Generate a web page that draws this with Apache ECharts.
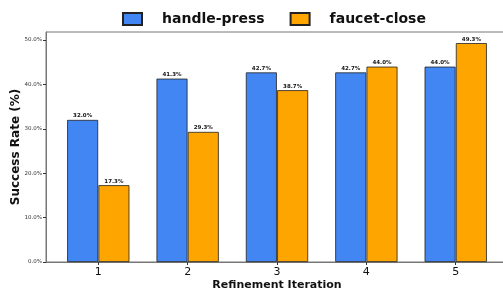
<!DOCTYPE html>
<html lang="en">
<head>
  <meta charset="utf-8">
  <title>Refinement success</title>
  <script src="https://cdn.jsdelivr.net/npm/echarts@6/dist/echarts.min.js"></script>
  <style>
    html, body { margin: 0; padding: 0; background: #fff; }
    #chart1 { width: 503px; height: 292px; }
  </style>
</head>
<body>
<div id="chart1"></div>
<script>
  // data
  var iterations = [1, 2, 3, 4, 5];
  var seriesNames = ['handle-press', 'faucet-close'];
  var handlePress = [32.0, 41.3, 42.7, 42.7, 44.0];
  var faucetClose = [17.3, 29.3, 38.7, 44.0, 49.3];
  var yTicks = [0, 10, 20, 30, 40, 50];

  var offset = 0.175; // half of bar width in axis units

  function toPoints(vals, shift) {
    return vals.map(function (v, i) { return [iterations[i] + shift, v]; });
  }

  var chart1 = echarts.init(document.getElementById('chart1'));

  var labelStyle = {
    show: true,
    position: 'top',
    distance: 1,
    fontSize: 5.5,
    fontWeight: 'bold',
    color: '#111',
    fontFamily: 'DejaVu Sans',
    formatter: function (p) { return p.value[1].toFixed(1) + '%'; }
  };

  var option = {
    animation: false,
    legend: {
      top: 7,
      left: 117,
      icon: 'rect',
      itemWidth: 19,
      itemHeight: 12,
      itemGap: 25,
      textStyle: { fontSize: 14, fontWeight: 'bold', color: '#111', fontFamily: 'DejaVu Sans', padding: [0, 0, 0, 15] },
      data: seriesNames
    },
    grid: {
      left: 46, top: 32, width: 462, height: 230,
      outerBoundsMode: 'none',
      containLabel: false,
      show: true, borderColor: '#777', borderWidth: 1
    },
    xAxis: {
      type: 'value',
      min: 0.415,
      max: 5.585,
      name: 'Refinement Iteration',
      nameLocation: 'middle',
      nameGap: 18,
      nameMoveOverlap: false,
      nameTextStyle: { fontSize: 11, fontWeight: 'bold', color: '#111', fontFamily: 'DejaVu Sans' },
      splitLine: { show: false },
      axisLine: { lineStyle: { color: '#777' } },
      axisTick: { show: true, length: 3, customValues: iterations, lineStyle: { color: '#333' } },
      axisLabel: { customValues: iterations, fontSize: 11, color: '#111', margin: 5, fontFamily: 'DejaVu Sans' }
    },
    yAxis: {
      type: 'value',
      min: 0,
      max: 51.8,
      interval: 10,
      name: 'Success Rate (%)',
      nameLocation: 'middle',
      nameGap: 24,
      nameMoveOverlap: false,
      nameTextStyle: { fontSize: 12, fontWeight: 'bold', color: '#111', fontFamily: 'DejaVu Sans' },
      splitLine: { show: false },
      axisLine: { show: true, lineStyle: { color: '#777' } },
      axisTick: { show: true, length: 3, customValues: yTicks, lineStyle: { color: '#333' } },
      axisLabel: {
        customValues: yTicks, fontSize: 5.5, color: '#333', margin: 4, fontFamily: 'DejaVu Sans',
        formatter: function (v) { return v.toFixed(1) + '%'; }
      }
    },
    series: [
      {
        name: seriesNames[0],
        type: 'bar',
        barWidth: 31,
        barGap: '-100%',
        data: toPoints(handlePress, -offset),
        itemStyle: { color: '#4286f4', borderColor: '#222', borderWidth: 0.8 },
        label: labelStyle
      },
      {
        name: seriesNames[1],
        type: 'bar',
        barWidth: 31,
        barGap: '-100%',
        data: toPoints(faucetClose, offset),
        itemStyle: { color: '#ffa500', borderColor: '#222', borderWidth: 0.8 },
        label: labelStyle
      }
    ]
  };
  chart1.setOption(option);
</script>
</body>
</html>
